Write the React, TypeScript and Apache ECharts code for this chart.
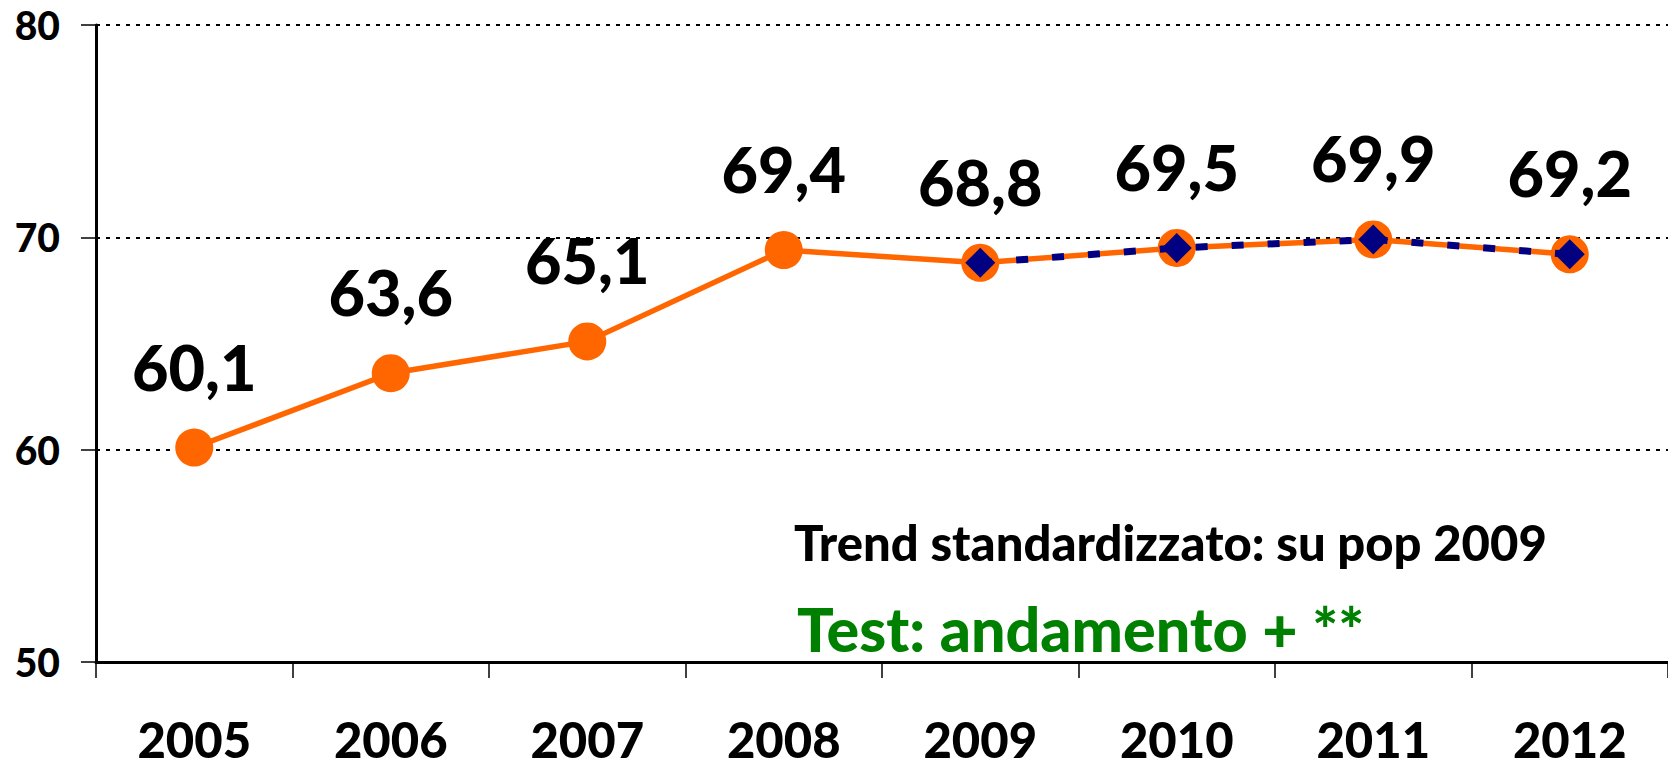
import React, { useEffect, useRef } from "react";
import * as echarts from "echarts";

const years = ["2005", "2006", "2007", "2008", "2009", "2010", "2011", "2012"];
const grezzo = [60.1, 63.6, 65.1, 69.4, 68.8, 69.5, 69.9, 69.2];
const standardizzato = [null, null, null, null, 68.8, 69.5, 69.9, 69.2];
const yMin = 50;
const yMax = 80;
const yStep = 10;
const noteTrend = "Trend standardizzato: su pop 2009";
const noteTest = "Test: andamento + **";

const FONT = "Lato, 'Open Sans', sans-serif";

export default function App() {
  const ref = useRef<HTMLDivElement>(null);
  useEffect(() => {
    if (!ref.current) return;
    const chart = echarts.init(ref.current, null, { renderer: "svg" });
    chart.setOption({
      animation: false,
      backgroundColor: "#ffffff",
      grid: { left: 96, top: 25, right: -7, bottom: 104, containLabel: false },
      xAxis: {
        type: "category",
        data: years,
        boundaryGap: true,
        axisLine: { lineStyle: { color: "#000", width: 3 } },
        axisTick: { show: true, length: 16, lineStyle: { color: "#000", width: 1.5 } },
        axisLabel: {
          color: "#000",
          fontFamily: FONT,
          fontWeight: 900,
          fontSize: 49,
          margin: 52,
          interval: 0,
        },
        splitLine: { show: false },
      },
      yAxis: {
        type: "value",
        min: yMin,
        max: yMax,
        interval: yStep,
        axisLine: { show: true, lineStyle: { color: "#000", width: 3 } },
        axisTick: { show: true, length: 15, lineStyle: { color: "#000", width: 1.5 } },
        axisLabel: {
          color: "#000",
          fontFamily: FONT,
          fontWeight: 900,
          fontSize: 39,
          margin: 36,
        },
        splitLine: {
          show: true,
          lineStyle: { color: "#000", width: 2, type: [4, 6] },
        },
      },
      series: [
        {
          type: "line",
          data: grezzo,
          z: 2,
          symbol: "circle",
          symbolSize: 38,
          lineStyle: { color: "#FF6600", width: 5.5 },
          itemStyle: { color: "#FF6600" },
          label: {
            show: true,
            position: "top",
            distance: 31,
            color: "#000",
            fontFamily: FONT,
            fontWeight: 900,
            fontSize: 63,
            formatter: (p: any) => String(p.value).replace(".", ","),
          },
        },
        {
          type: "line",
          data: standardizzato,
          z: 3,
          symbol: "diamond",
          symbolSize: 30,
          lineStyle: { color: "#000080", width: 7, type: [12, 24] },
          itemStyle: { color: "#000080" },
          label: { show: false },
        },
      ],
      graphic: [
        {
          type: "text",
          x: 794,
          y: 542,
          style: {
            text: noteTrend,
            fill: "#000",
            font: `900 49px ${FONT}`,
            verticalAlign: "middle",
            align: "left",
          },
        },
        {
          type: "text",
          x: 797,
          y: 628,
          style: {
            text: noteTest,
            fill: "#008000",
            font: `900 61px ${FONT}`,
            verticalAlign: "middle",
            align: "left",
          },
        },
      ],
    });
    return () => chart.dispose();
  }, []);
  return (
    <div
      ref={ref}
      style={{ position: "absolute", left: 0, top: 0, width: 1668, height: 766, overflow: "hidden" }}
    />
  );
}
